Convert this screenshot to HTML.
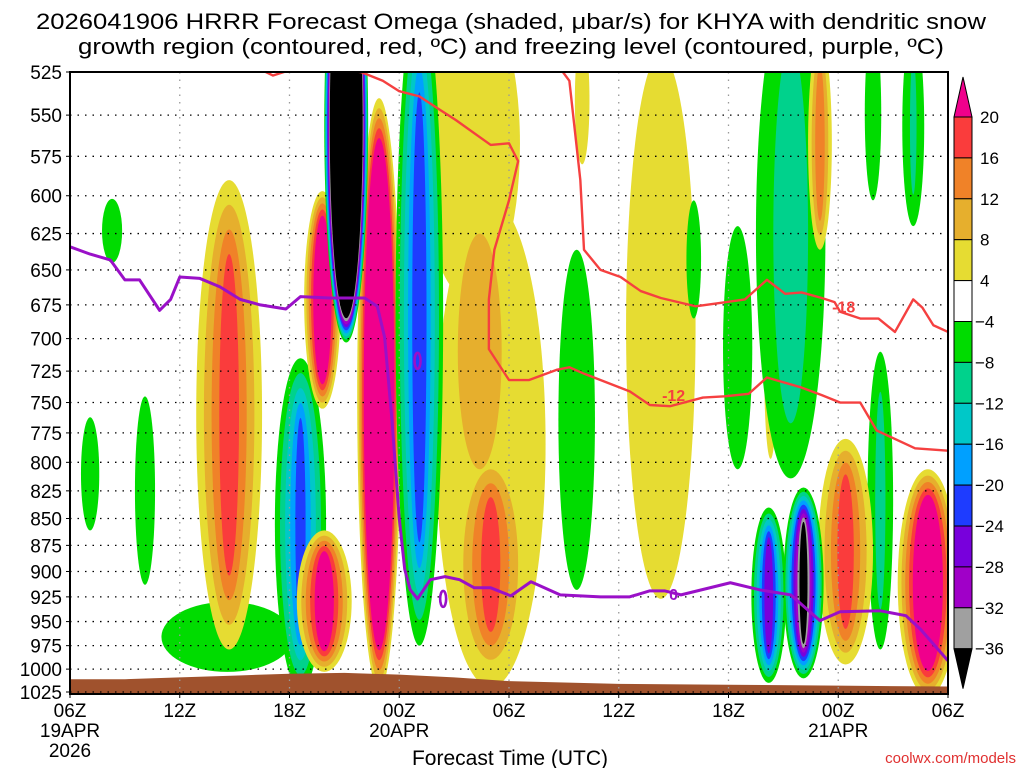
<!DOCTYPE html>
<html><head><meta charset="utf-8"><style>
html,body{margin:0;padding:0;background:#fff;}
svg{display:block;font-family:"Liberation Sans","DejaVu Sans",sans-serif;}
</style></head><body>
<svg id="chart" width="1024" height="768" viewBox="0 0 1024 768" xmlns="http://www.w3.org/2000/svg">
<text x="36" y="29" font-size="22" textLength="950" lengthAdjust="spacingAndGlyphs">2026041906 HRRR Forecast Omega (shaded, μbar/s) for KHYA with dendritic snow</text>
<text x="78" y="54" font-size="22" textLength="866" lengthAdjust="spacingAndGlyphs">growth region (contoured, red, ºC) and freezing level (contoured, purple, ºC)</text>
<defs><clipPath id="plotclip"><rect x="70" y="72" width="878" height="621"/></clipPath></defs>
<g id="shade" clip-path="url(#plotclip)"></g>
<g id="grid"></g>
<g id="lines" clip-path="url(#plotclip)"></g>
<g id="axes"></g>
<g id="cbar"></g>
<text x="510" y="765" font-size="21" text-anchor="middle">Forecast Time (UTC)</text>
<text x="1016" y="763" font-size="15" fill="#e03030" text-anchor="end">coolwx.com/models</text>
</svg>
<script>
const levelValues=[-36,-32,-28,-24,-20,-16,-12,-8,-4,4,8,12,16,20];
const levelColors=["#000000","#a0a0a0","#a000c8","#7800dc","#1e3cff","#00a0ff","#00c8c8","#00d28c","#00dc00","#ffffff","#e6dc32","#e6af2d","#f08228","#fa3c3c","#f0008c"];
const pressureTicks=[525,550,575,600,625,650,675,700,725,750,775,800,825,850,875,900,925,950,975,1000,1025];
const timeTicks=[0,6,12,18,24,30,36,42,48];
const timeLabels=[["06Z","19APR","2026"],["12Z"],["18Z"],["00Z","20APR"],["06Z"],["12Z"],["18Z"],["00Z","21APR"],["06Z"]];
// blobs: [hour, pTop, pBottom, halfWidthHours, outerLevelIdx, innerLevelIdx, coreFraction]
const omegaBlobs=[
[21.9,480,671,2.7,10,10,1],
[23.0,603,1020,3.0,10,10,1],
[32.3,515,927,1.9,10,10,1],
[28.0,505,580,0.4,10,10,1],
[38.3,654,797,0.35,10,10,1],
[22.4,625,806,1.2,11,11,1],
[1.1,762,861,0.5,8,8,1],
[2.3,602,645,0.55,8,8,1],
[4.1,745,913,0.55,8,8,1],
[8.6,930,1003,3.6,8,8,1],
[27.7,636,918,1.0,8,8,1],
[34.1,603,685,0.4,8,8,1],
[36.5,620,806,0.8,8,8,1],
[39.4,480,814,1.9,8,7,0.5],
[43.9,500,603,0.45,8,8,1],
[46.1,500,620,0.6,8,7,0.3],
[44.3,710,979,0.7,8,7,0.4],
[41.0,505,636,0.65,10,12,0.4],
[8.7,590,979,1.8,10,13,0.3],
[23.0,806,990,1.5,11,13,0.35],
[42.4,780,995,1.5,10,13,0.3],
[46.9,806,1030,1.65,10,14,0.5],
[12.6,715,1023,1.4,8,4,0.2],
[13.9,861,1003,1.5,10,14,0.35],
[13.8,597,755,1.0,10,14,0.5],
[16.9,540,1023,1.2,10,14,0.7],
[19.1,480,975,1.3,8,4,0.3],
[15.1,440,703,1.2,8,0,0.75],
[38.2,840,1015,0.95,8,3,0.25],
[40.1,822,1010,1.1,8,0,0.2]
];
const groundHours=[0,3,6,9,12,15,18,21,24,30,36,42,48];
const groundPressure=[1011,1011,1009,1007,1005,1004,1006,1009,1013,1016,1017,1018,1019];
const freezeHours=[0,1.1,2.2,3.0,3.8,4.9,5.5,6.0,7.1,8.2,9.3,10.4,11.8,12.6,14.2,16.1,16.8,17.2,17.6,18.0,18.3,18.6,19.0,19.7,20.5,21.3,22.1,23.0,24.1,25.2,26.8,29.0,30.6,31.7,32.5,33.4,36.1,37.7,39.4,41.0,42.1,44.3,45.7,46.5,48];
const freezePress=[634,639,643,657,657,679,671,655,656,662,671,675,678,669,670,670,676,699,764,850,898,918,927,908,905,908,916,916,924,910,923,925,925,919,919,923,911,918,923,949,940,939,944,958,991];
const m12Hours=[10.1,11.1,12.6,15.9,17.1,18.0,19.1,20.1,21.1,23.0,24.0,24.5,24.0,23.2,22.9,22.9,24.0,25.1,26.6,27.3,28.1,30.6,31.7,32.8,34.6,35.8,37.1,38.1,40.0,41.1,42.1,43.2,44.1,46.2,48];
const m12Press=[522,527,522,525,530,536,539,546,553,568,567,578,603,636,671,708,732,732,724,722,727,741,752,753,746,745,743,730,738,744,750,750,773,788,790];
const m18Hours=[26.8,27.3,27.9,28.1,29.0,30.1,31.2,32.3,34.2,35.3,36.9,38.1,39.1,40.0,41.1,41.8,42.1,43.2,44.2,45.1,46.1,46.6,47.2,48];
const m18Press=[523,530,590,636,650,655,665,670,676,674,671,657,667,666,670,673,680,685,685,695,671,677,690,695];
const loopHours=[19.0,20.4];
const loopPress=[717,927];

const X0=70,X1=948,Y0=72,Y1=692,LP0=Math.log(525),LP1=Math.log(1025);
function xs(h){return X0+(X1-X0)*h/48;}
function ys(p){return Y0+(Y1-Y0)*(Math.log(p)-LP0)/(LP1-LP0);}
const NS="http://www.w3.org/2000/svg";
function mk(t,a,parent){const e=document.createElementNS(NS,t);for(const k in a)e.setAttribute(k,a[k]);parent.appendChild(e);return e;}
const shade=document.getElementById('shade'),grid=document.getElementById('grid'),lines=document.getElementById('lines'),axes=document.getElementById('axes'),cbar=document.getElementById('cbar');

omegaBlobs.forEach((b,i)=>{
  const [h,pt,pb,w,o,inn,core]=b;
  const cx=xs(h),yt=ys(pt),yb=ys(pb),cy=(yt+yb)/2,ry=(yb-yt)/2,rx=xs(h+w)-cx;
  const step=o<=9?-1:1;const n=Math.abs(inn-o);
  for(let k=0;k<=n;k++){
    const f=n===0?1:1-(1-core)*k/n;
    const e=mk('ellipse',{cx:cx,cy:cy,rx:rx*f,ry:ry*(0.55+0.45*f),fill:levelColors[o+step*k]},shade);
    
    
  }
});
let gd=`M${xs(0)},${Y1+2}`;groundHours.forEach((h,i)=>{gd+=` L${xs(h)},${ys(groundPressure[i])}`;});gd+=` L${xs(48)},${Y1+2} Z`;
const g=mk('path',{d:gd,fill:'#a0522d'},shade);



pressureTicks.forEach(p=>{const y=ys(p);const l=mk('line',{x1:X0,x2:X1,y1:y,y2:y,stroke:'#000','stroke-width':1.3,'stroke-dasharray':'1.5 6'},grid);


const t=mk('text',{x:62,y:y+7,'font-size':19,'text-anchor':'end'},axes);t.textContent=p;


mk('line',{x1:X0-4,x2:X0,y1:y,y2:y,stroke:'#000'},axes);});
timeTicks.forEach((h,i)=>{const x=xs(h);const l=mk('line',{x1:x,x2:x,y1:Y0,y2:Y1,stroke:'#999','stroke-width':1.3,'stroke-dasharray':'1.5 6'},grid);


mk('line',{x1:x,x2:x,y1:Y1,y2:Y1+6,stroke:'#000'},axes);
timeLabels[i].forEach((s,j)=>{const t=mk('text',{x:x,y:717+j*20,'font-size':19,'text-anchor':'middle'},axes);t.textContent=s;

});});
mk('rect',{x:X0,y:Y0,width:X1-X0,height:Y1-Y0+2,fill:'none',stroke:'#000','stroke-width':2},axes);

function poly(hs,ps,color,name,w){let d='';hs.forEach((h,i)=>{d+=(i?' L':'M')+xs(h)+','+ys(ps[i]);});
const e=mk('path',{d:d,fill:'none',stroke:color,'stroke-width':w,'stroke-linejoin':'round'},lines);

}
poly(m12Hours,m12Press,'#f54040','contour-minus12',2.4);
poly(m18Hours,m18Press,'#f54040','contour-minus18',2.4);
poly(freezeHours,freezePress,'#9a10c8','freezing-level-line',3);
loopHours.forEach((h,i)=>{const e=mk('ellipse',{cx:xs(h),cy:ys(loopPress[i]),rx:3,ry:8,fill:'none',stroke:'#9a10c8','stroke-width':2.6},lines);

});
function lab(h,p,s,c){const t=mk('text',{x:xs(h),y:ys(p)+6,'font-size':16,'font-weight':'bold',fill:c,'text-anchor':'middle'},lines);t.textContent=s;

}
lab(33.0,744,'-12','#f54040');lab(42.3,676,'-18','#f54040');lab(33.0,922,'0','#9a10c8');

const cbX=954,cbW=18,cbTop=117,cbStep=40.9;
for(let i=0;i<13;i++){const idx=13-i;const r=mk('rect',{x:cbX,y:cbTop+i*cbStep,width:cbW,height:cbStep,fill:levelColors[idx],stroke:'#000','stroke-width':1},cbar);

}
mk('polygon',{points:`${cbX},${cbTop} ${cbX+cbW},${cbTop} ${cbX+cbW/2},${cbTop-40}`,fill:levelColors[14],stroke:'#000'},cbar);
const cbBot=cbTop+13*cbStep;
mk('polygon',{points:`${cbX},${cbBot} ${cbX+cbW},${cbBot} ${cbX+cbW/2},${cbBot+40}`,fill:levelColors[0],stroke:'#000'},cbar);
for(let i=0;i<14;i++){const v=levelValues[13-i];const t=mk('text',{x:v<0?975:980,y:cbTop+i*cbStep+6,'font-size':17},cbar);t.textContent=v<0?'\u2212'+(-v):v;

}
</script>
</body></html>
